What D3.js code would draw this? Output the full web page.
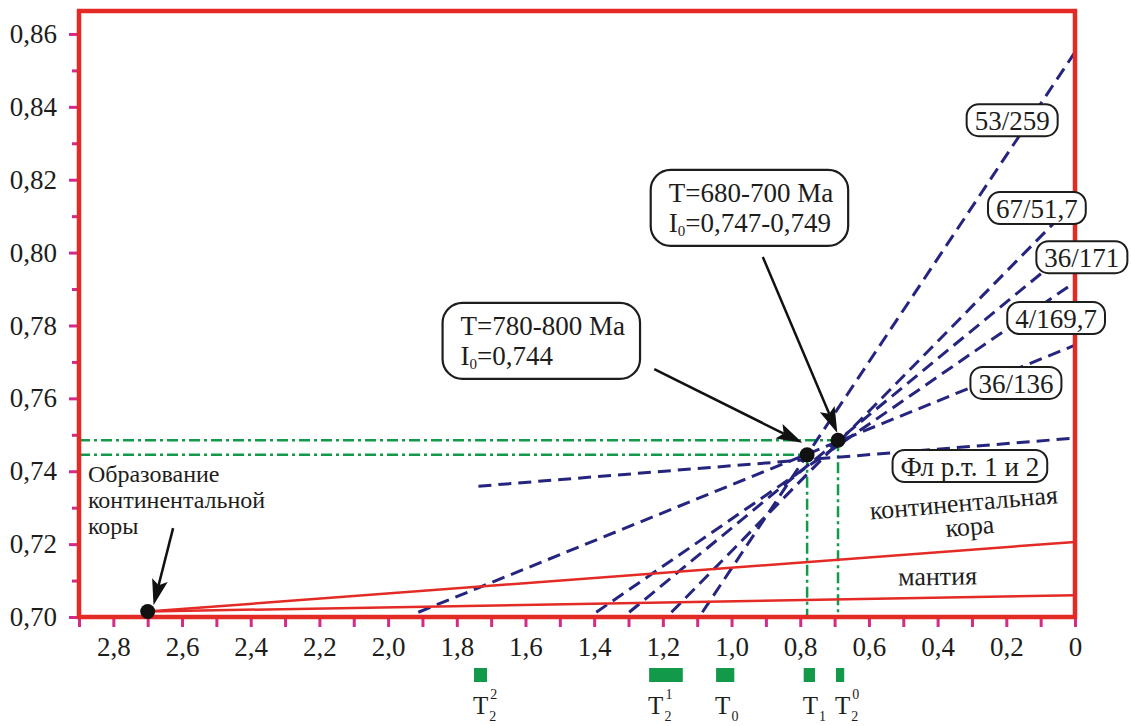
<!DOCTYPE html>
<html>
<head>
<meta charset="utf-8">
<script src="https://cdn.jsdelivr.net/npm/d3@7"></script>
<style>
  body { margin: 0; background: #fff; }
  svg { display: block; }
</style>
</head>
<body>
<svg id="chart" width="1131" height="726"></svg>
<script>
// ---- data (x: age, Ga ; y: 87Sr/86Sr) ----
const yMajor = [0.70, 0.72, 0.74, 0.76, 0.78, 0.80, 0.82, 0.84, 0.86];
const yMinor = [0.71, 0.73, 0.75, 0.77, 0.79, 0.81, 0.83, 0.85];
const xTicks = [2.9, 2.8, 2.7, 2.6, 2.5, 2.4, 2.3, 2.2, 2.1, 2.0, 1.9, 1.8, 1.7, 1.6, 1.5,
                1.4, 1.3, 1.2, 1.1, 1.0, 0.9, 0.8, 0.7, 0.6, 0.5, 0.4, 0.3, 0.2, 0.1, 0];
const xLabels = [2.8, 2.6, 2.4, 2.2, 2.0, 1.8, 1.6, 1.4, 1.2, 1.0, 0.8, 0.6, 0.4, 0.2, 0];

// isochron lines (start / end) and their tag positions
const isochrons = [
  {name: "53/259",        x0: 1.085, y0: 0.7013, x1: 0, y1: 0.8550, lx: 0.183,  ly: 0.8336},
  {name: "67/51,7",       x0: 1.175, y0: 0.7013, x1: 0, y1: 0.8140, lx: 0.111,  ly: 0.8095},
  {name: "36/171",        x0: 1.298, y0: 0.7013, x1: 0, y1: 0.8019, lx: -0.020, ly: 0.7960},
  {name: "4/169,7",       x0: 1.394, y0: 0.7013, x1: 0, y1: 0.7919, lx: 0.055,  ly: 0.7793},
  {name: "36/136",        x0: 1.912, y0: 0.7013, x1: 0, y1: 0.7746, lx: 0.172,  ly: 0.7615},
  {name: "Фл р.т. 1 и 2", x0: 1.737, y0: 0.7359, x1: 0, y1: 0.7491, lx: 0.306,  ly: 0.7387}
];

// evolution lines of crust and mantle
const crustLine  = [[2.7, 0.7015], [0, 0.7206]];
const mantleLine = [[2.7, 0.7015], [0, 0.7060]];

// points: crust formation and the two intersections
const points = [[2.7, 0.7015], [0.78, 0.7445], [0.69, 0.7485]];
const guidePoints = [[0.78, 0.7445], [0.69, 0.7485]];

// age intervals under the axis
const ages = [
  {sub: "2", sup: "2", from: 1.750, to: 1.712},
  {sub: "2", sup: "1", from: 1.240, to: 1.142},
  {sub: "0", sup: "",  from: 1.045, to: 0.992},
  {sub: "1", sup: "",  from: 0.790, to: 0.757},
  {sub: "2", sup: "0", from: 0.696, to: 0.672}
];

// callouts: text left / first baseline, arrow tail -> tip
const callouts = [
  {lines: [["T=680-700 Ma"], ["I", "0", "=0,747-0,749"]], tx: 1.183, ty: 0.8139,
   ax0: 0.909, ay0: 0.7988, ax1: 0.692, ay1: 0.7505},
  {lines: [["T=780-800 Ma"], ["I", "0", "=0,744"]], tx: 1.789, ty: 0.7774,
   ax0: 1.225, ay0: 0.7680, ax1: 0.794, ay1: 0.7478}
];
const crustNote = {lines: ["Образование", "континентальной", "коры"], tx: 2.874, ty: 0.7370,
  ax0: 2.626, ay0: 0.7244, ax1: 2.683, ay1: 0.7032};
const fieldLabels = [
  {lines: ["континентальная", "кора"], x: 0.322, y: 0.7290, rot: -5},
  {lines: ["мантия"], x: 0.400, y: 0.7088, rot: -1}
];

// ---- setup ----
const svg = d3.select('#chart');
const FONT = '"Liberation Serif", "Times New Roman", "DejaVu Serif", serif';
const ink = '#1d1d1b', red = '#e42a25', magenta = '#d42a8b', navy = '#25257f', green = '#12994a';

const x = d3.scaleLinear().domain([2.9, 0]).range([79, 1075]);
const y = d3.scaleLinear().domain([0.70, 0.8663]).range([617, 11]);
const comma = f => d => d === 0 ? '0' : d3.format(f)(d).replace('.', ',');
const txt = (sel, size) => sel.style('font-family', FONT).style('font-size', size + 'px').attr('fill', ink);

// axes ticks
const yAxisMinor = svg.append('g').attr('transform', `translate(${x(2.9)},0)`)
  .call(d3.axisLeft(y).tickValues(yMinor).tickSize(7).tickFormat(''));
const yAxis = svg.append('g').attr('transform', `translate(${x(2.9)},0)`)
  .call(d3.axisLeft(y).tickValues(yMajor).tickSize(10).tickPadding(12).tickFormat(comma('.2f')));
const xAxisMinor = svg.append('g').attr('transform', `translate(0,${y(0.70)})`)
  .call(d3.axisBottom(x).tickValues(xTicks).tickSize(10).tickFormat(''));
const xAxis = svg.append('g').attr('transform', `translate(0,${y(0.70)})`)
  .call(d3.axisBottom(x).tickValues(xLabels).tickSize(0).tickPadding(20).tickFormat(comma('.1f')));

[yAxisMinor, yAxis, xAxisMinor, xAxis].forEach(g => {
  g.select('.domain').remove();
  g.selectAll('line').attr('stroke', magenta).attr('stroke-width', 3);
  g.attr('font-family', null).attr('font-size', null);
  txt(g.selectAll('text'), 27);
});

// green guides
const guides = svg.append('g').attr('stroke', green).attr('stroke-width', 2.5)
  .attr('stroke-dasharray', '11 4 3 4').attr('fill', 'none');
guidePoints.forEach(p => {
  guides.append('line').attr('x1', x(2.9)).attr('x2', x(p[0])).attr('y1', y(p[1])).attr('y2', y(p[1]));
  guides.append('line').attr('x1', x(p[0])).attr('x2', x(p[0])).attr('y1', y(p[1])).attr('y2', y(0.70));
});

// isochrons
svg.append('g').selectAll('line').data(isochrons).join('line')
  .attr('x1', d => x(d.x0)).attr('y1', d => y(d.y0))
  .attr('x2', d => x(d.x1)).attr('y2', d => y(d.y1))
  .attr('stroke', navy).attr('stroke-width', 3).attr('stroke-dasharray', '13 7');

// crust & mantle
const line = d3.line().x(d => x(d[0])).y(d => y(d[1]));
svg.append('path').attr('d', line(crustLine)).attr('stroke', red).attr('stroke-width', 2.5).attr('fill', 'none');
svg.append('path').attr('d', line(mantleLine)).attr('stroke', red).attr('stroke-width', 2.5).attr('fill', 'none');

// frame
svg.append('rect').attr('x', x(2.9)).attr('y', y(0.8663))
  .attr('width', x(0) - x(2.9)).attr('height', y(0.70) - y(0.8663))
  .attr('fill', 'none').attr('stroke', red).attr('stroke-width', 4.5);

// points
svg.append('g').selectAll('circle').data(points).join('circle')
  .attr('cx', d => x(d[0])).attr('cy', d => y(d[1])).attr('r', 7.5).attr('fill', '#111');

// isochron tags
isochrons.forEach(d => {
  const g = svg.append('g');
  const t = txt(g.append('text'), 27).attr('x', x(d.lx)).attr('y', y(d.ly))
    .attr('text-anchor', 'middle').text(d.name);
  const b = t.node().getBBox();
  g.insert('rect', 'text').attr('x', b.x - 8).attr('y', b.y - 2)
    .attr('width', b.width + 16).attr('height', b.height + 2).attr('rx', 12)
    .attr('fill', '#fff').attr('stroke', ink).attr('stroke-width', 2);
});

// arrows
function arrow(x0, y0, x1, y1) {
  const ax = x(x0), ay = y(y0), bx = x(x1), by = y(y1);
  const L = Math.hypot(bx - ax, by - ay), ux = (bx - ax) / L, uy = (by - ay) / L;
  const hl = 26, hw = 8;
  svg.append('line').attr('x1', ax).attr('y1', ay)
    .attr('x2', bx - ux * hl * 0.8).attr('y2', by - uy * hl * 0.8)
    .attr('stroke', '#111').attr('stroke-width', 2.5);
  const bxh = bx - ux * hl, byh = by - uy * hl;
  svg.append('path')
    .attr('d', `M${bx},${by}L${bxh - uy * hw},${byh + ux * hw}L${bx - ux * hl * 0.8},${by - uy * hl * 0.8}L${bxh + uy * hw},${byh - ux * hw}Z`)
    .attr('fill', '#111');
}

// callouts with boxes
callouts.forEach(c => {
  const g = svg.append('g');
  const t = txt(g.append('text'), 27).attr('x', x(c.tx)).attr('y', y(c.ty));
  c.lines.forEach((l, i) => {
    t.append('tspan').attr('x', x(c.tx)).attr('dy', i ? 30 : 0).text(l[0]);
    if (l.length === 3) {
      t.append('tspan').attr('dy', 4).style('font-size', '15px').text(l[1]);
      t.append('tspan').attr('dy', -4).text(l[2]);
    }
  });
  const b = t.node().getBBox();
  g.insert('rect', 'text').attr('x', b.x - 18).attr('y', b.y - 8)
    .attr('width', b.width + 33).attr('height', b.height + 15).attr('rx', 20)
    .attr('fill', '#fff').attr('stroke', ink).attr('stroke-width', 2.2);
  arrow(c.ax0, c.ay0, c.ax1, c.ay1);
});

// crust formation note
const note = txt(svg.append('text'), 24).attr('x', x(crustNote.tx)).attr('y', y(crustNote.ty));
crustNote.lines.forEach((l, i) => note.append('tspan').attr('x', x(crustNote.tx)).attr('dy', i ? 26 : 0).text(l));
arrow(crustNote.ax0, crustNote.ay0, crustNote.ax1, crustNote.ay1);

// field labels
fieldLabels.forEach(f => {
  const t = txt(svg.append('text'), 26)
    .attr('transform', `translate(${x(f.x)},${y(f.y)}) rotate(${f.rot})`)
    .attr('text-anchor', 'middle');
  f.lines.forEach((l, i) => t.append('tspan').attr('x', i ? 4 : 0).attr('dy', i ? 24 : 0).text(l));
});

// age bars & labels
const ag = svg.append('g');
ages.forEach(a => {
  ag.append('rect').attr('x', x(a.from)).attr('y', 668)
    .attr('width', x(a.to) - x(a.from)).attr('height', 14).attr('fill', green);
  const t = txt(ag.append('text'), 25).attr('x', x(a.from) - 1).attr('y', 714).text('T');
  const w = t.node().getComputedTextLength();
  txt(ag.append('text'), 14).attr('x', x(a.from) + w).attr('y', 721).text(a.sub);
  if (a.sup) txt(ag.append('text'), 14).attr('x', x(a.from) + w + 1).attr('y', 699).text(a.sup);
});
</script>
</body>
</html>
